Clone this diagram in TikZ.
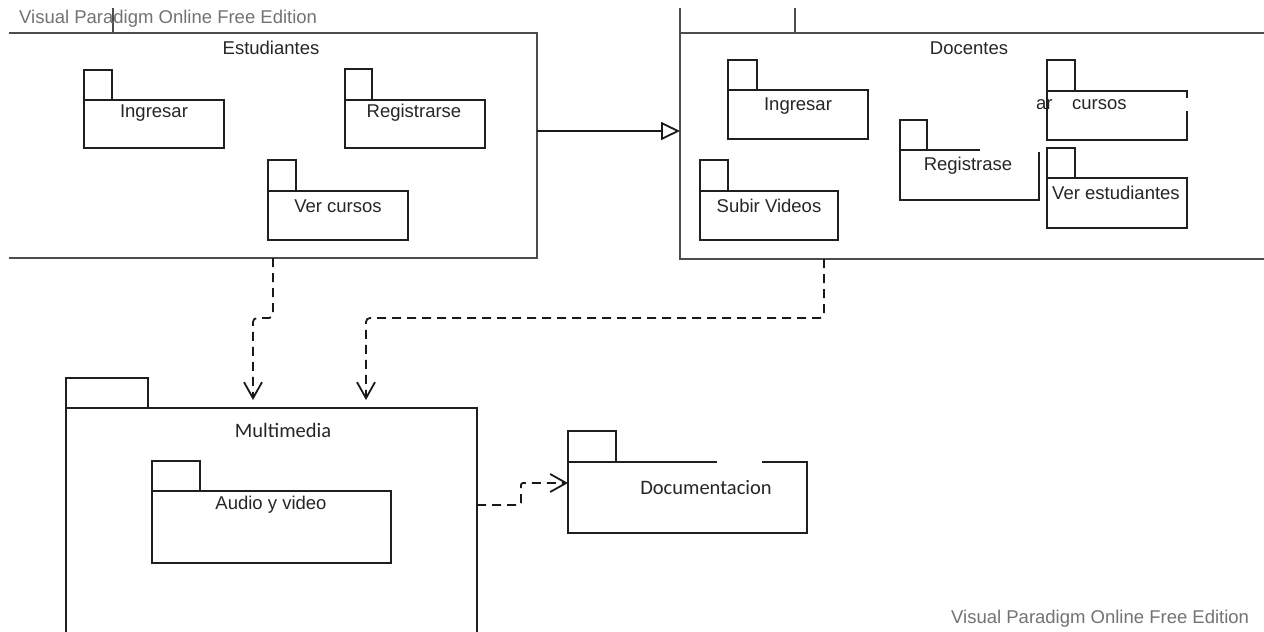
\documentclass[tikz,border=0pt]{standalone}
\usepackage{fontspec}
\setmainfont{Liberation Sans}
\newfontfamily\calib{Carlito}
\usetikzlibrary{arrows.meta}
\newcommand\pkgbox[7]{%
  \node[body, minimum width=#4pt, minimum height=#5pt] (#1) at (#2,#3) {};
  \node[body, anchor=south west, minimum width=#6pt, minimum height=#7pt] (#1t) at (#1.north west) {};}
\begin{document}
\begin{tikzpicture}[x=1pt,y=-1pt,
  cont/.style={draw=black!70, line width=2.2pt},
  pkgline/.style={draw=black!88, line width=1.8pt},
  body/.style={pkgline, anchor=north west, inner sep=0pt, outer sep=0pt},
  ghost/.style={anchor=north west, inner sep=0pt, outer sep=0pt},
  lbl/.style={font=\fontsize{18.5}{20}\selectfont, text=black!85, inner sep=0pt},
  clbl/.style={font=\calib\fontsize{20.5}{22}\selectfont, text=black!85, inner sep=0pt},
  dep/.style={draw=black!90, line width=1.8pt, dash pattern=on 9pt off 6pt,
    -{Straight Barb[length=16pt,width=18pt,line width=1.8pt]}, rounded corners=4pt},
  gen/.style={draw=black!90, line width=1.8pt,
    -{Triangle[open,length=19pt,width=18pt,line width=1.8pt,fill=white]}},
  wm/.style={font=\fontsize{18.5}{20}\selectfont, text=black!55, inner sep=0pt}
]
\useasboundingbox[fill=white] (0,0) rectangle (1264,632);

% ---------- Estudiantes container ----------
\coordinate (estTL) at (9,33);
\coordinate (estTR) at (537,33);
\coordinate (estBR) at (537,258);
\coordinate (estBL) at (9,258);
\coordinate (estTab) at (113,8);
\draw[cont] (estTL) -- (estTR) -- (estBR) -- (estBL);
\draw[cont] (estTab) -- (estTab |- estTL);
\node[lbl] (estT) at (271,48) {Estudiantes};

\pkgbox{e1}{84}{100}{140}{48}{28}{30}
\node[lbl] (e1l) at (154,113) {Ingresar};
\pkgbox{e2}{345}{100}{140}{48}{27}{31}
\node[lbl] (e2l) at (414,113) {Registrarse};
\pkgbox{e3}{268}{191}{140}{49}{28}{31}
\node[lbl] (e3l) at (338,206) {Ver cursos};

% ---------- Docentes container ----------
\coordinate (docTL) at (680,33);
\coordinate (docTop) at (680,8);
\coordinate (docBL) at (680,259);
\coordinate (docTab) at (795,8);
\draw[cont] (docTop) -- (docBL) -- (1264,259);
\draw[cont] (docTL) -- (1264,33);
\draw[cont] (docTab) -- (docTab |- docTL);
\node[lbl] (docT) at (969,48) {Docentes};

\pkgbox{d1}{728}{90}{140}{49}{29}{30}
\node[lbl] (d1l) at (798,106) {Ingresar};

\node[ghost, minimum width=140pt, minimum height=49pt] (d2) at (1047,91) {};
\node[body, anchor=south west, minimum width=28pt, minimum height=31pt] (d2t) at (d2.north west) {};
\draw[pkgline] ([yshift=-20pt]d2.north east) -- (d2.south east) -- (d2.south west) -- (d2.north west) -- (d2.north east) -- ([yshift=-7pt]d2.north east);
\node[lbl, anchor=west] (d2a) at (1036,105) {ar};
\node[lbl, anchor=west] (d2b) at (1072,105) {cursos};

\node[ghost, minimum width=139pt, minimum height=50pt] (d3) at (900,150) {};
\node[body, anchor=south west, minimum width=27pt, minimum height=30pt] (d3t) at (d3.north west) {};
\draw[pkgline] ([xshift=80pt]d3.north west) -- (d3.north west) -- (d3.south west) -- (d3.south east) -- ([yshift=-2pt]d3.north east);
\node[lbl] (d3l) at (968,166) {Registrase};

\pkgbox{d4}{700}{191}{138}{49}{28}{31}
\node[lbl] (d4l) at (769,206) {Subir Videos};
\pkgbox{d5}{1047}{178}{140}{50}{28}{30}
\node[lbl] (d5l) at (1116,193) {Ver estudiantes};

% ---------- Multimedia ----------
\coordinate (mmTL) at (66,408);
\coordinate (mmTR) at (477,408);
\draw[pkgline] (66,632) -- (mmTL) -- (mmTR) -- (477,632);
\node[body, anchor=south west, minimum width=82pt, minimum height=30pt] (mmt) at (mmTL) {};
\node[clbl] (mmT) at (283,430) {Multimedia};
\pkgbox{av}{152}{491}{239}{72}{48}{30}
\node[lbl] (avl) at (271,505) {Audio y video};

% ---------- Documentacion ----------
\node[ghost, minimum width=239pt, minimum height=71pt] (doc) at (568,462) {};
\node[body, anchor=south west, minimum width=48pt, minimum height=31pt] (doct) at (doc.north west) {};
\draw[pkgline] ([xshift=149pt]doc.north west) -- (doc.north west) -- (doc.south west) -- (doc.south east) -- (doc.north east) -- ([xshift=-45pt]doc.north east);
\node[clbl] (docl) at (706,488) {Documentacion};

% ---------- connectors ----------
\coordinate (s1) at (273,258);
\coordinate (t1) at (253,400);
\coordinate (s2) at (824,259);
\coordinate (t2) at (366,400);
\coordinate (s3) at (477,505);
\coordinate (t3) at (doc.west |- 0,483);
\draw[gen] (estTR |- 0,131) -- (docTL |- 0,131);
\draw[dep] (s1) -- (273,318) -- (253,318) -- (t1);
\draw[dep] (s2) -- (824,318) -- (366,318) -- (t2);
\draw[dep, rounded corners=2pt] (s3) -- (521,505) -- (521,483) -- (t3);

% ---------- watermarks ----------
\node[wm, anchor=west] (wm1) at (19,19) {Visual Paradigm Online Free Edition};
\node[wm, anchor=west] (wm2) at (951,619) {Visual Paradigm Online Free Edition};
\end{tikzpicture}
\end{document}
